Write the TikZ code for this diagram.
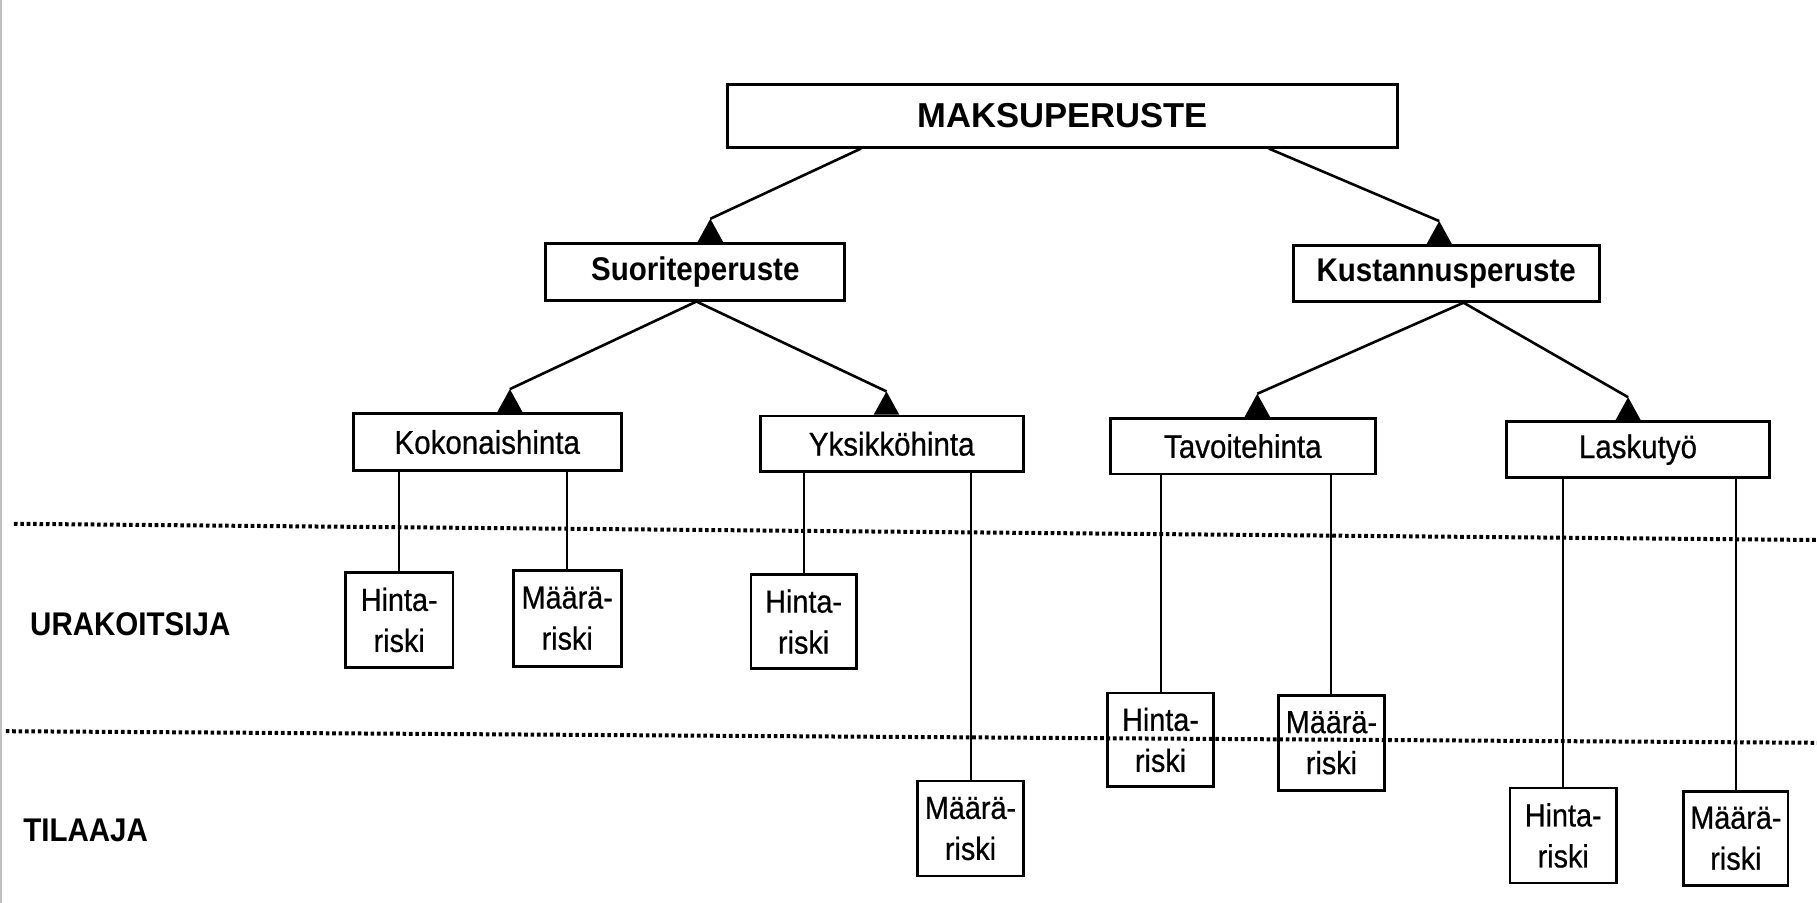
\documentclass[tikz,border=0pt]{standalone}
\usepackage{fontspec}
\setmainfont{Liberation Sans}
\newfontfamily\narrowsf[FakeStretch=0.9, FakeBold=0.6]{Liberation Sans}
\newfontfamily\narrowbf[FakeStretch=0.9]{Liberation Sans Bold}
\usetikzlibrary{calc}
\begin{document}
\begin{tikzpicture}[x=0.5794pt, y=-0.5794pt,
  rbox/.style 2 args={draw, line width=1.4pt, fill=white, inner sep=0pt,
    minimum width=#1*0.5794pt, minimum height=#2*0.5794pt},
  topbox/.style={font=\fontsize{17.3}{20}\selectfont\bfseries},
  catbox/.style={font=\narrowbf\fontsize{16.4}{20}\selectfont},
  kindbox/.style={font=\narrowsf\fontsize{16.4}{20}\selectfont},
  riskbox/.style={align=center, font=\narrowsf\fontsize{16}{20.5}\selectfont},
  link/.style={line width=1.3pt},
  drop/.style={line width=1pt},
  zone/.style={line width=2pt, dash pattern=on 1.8pt off 1.4pt},
  zonelabel/.style={anchor=west, font=\narrowbf\fontsize{16.4}{20}\selectfont},
  uphead/.pic={\fill (0,0) -- (-11,20) -- (11,20) -- cycle;}
]
\useasboundingbox (0,0) rectangle (1568,779);

% faint edge of the sheet
\draw[black!25, line width=1pt] (1,0) -- (1,779);

% top level
\node[rbox={578}{54}, topbox] (maks) at (917,100) {MAKSUPERUSTE};

% second level
\node[rbox={258}{49}, catbox] (suor) at (600,234.5) {Suoriteperuste};
\node[rbox={264}{48}, catbox] (kust) at (1248,236) {Kustannusperuste};

% third level
\node[rbox={231}{49}, kindbox] (kok) at (420.5,381.5) {Kokonaishinta};
\node[rbox={227}{48}, kindbox] (yks) at (769.5,383) {Yksikköhinta};
\node[rbox={229}{48}, kindbox] (tav) at (1072.5,385) {Tavoitehinta};
\node[rbox={227}{48}, kindbox] (las) at (1413.5,388) {Laskutyö};

% risk boxes
\node[rbox={93}{82}, riskbox] (kh) at (344.5,535)  {Hinta-\\riski};
\node[rbox={93}{83}, riskbox] (km) at (489.5,533.5) {Määrä-\\riski};
\node[rbox={91}{81}, riskbox] (yh) at (693.5,536.5) {Hinta-\\riski};
\node[rbox={91}{82}, riskbox] (ym) at (837.5,715)  {Määrä-\\riski};
\node[rbox={91}{81}, riskbox] (th) at (1001.5,638.5) {Hinta-\\riski};
\node[rbox={92}{82}, riskbox] (tm) at (1149,641)   {Määrä-\\riski};
\node[rbox={92}{82}, riskbox] (lh) at (1349,721)   {Hinta-\\riski};
\node[rbox={90}{81}, riskbox] (lm) at (1498,723.5) {Määrä-\\riski};

% arrow tips sitting on the child boxes
\coordinate (tS) at ($(suor.north)+(13,-20)$);
\coordinate (tK) at ($(kust.north)+(-6,-20)$);
\coordinate (tKo) at ($(kok.north)+(19.5,-20)$);
\coordinate (tY) at ($(yks.north)+(-4.5,-20)$);
\coordinate (tT) at ($(tav.north)+(12.5,-20)$);
\coordinate (tL) at ($(las.north)+(-8.5,-20)$);

\draw[link] ($(maks.south)+(-174,0)$) -- (tS);
\draw[link] ($(maks.south)+(178,0)$) -- (tK);
\draw[link] ($(suor.south)+(1,0)$) -- (tKo);
\draw[link] ($(suor.south)+(1,0)$) -- (tY);
\draw[link] ($(kust.south)+(15,0)$) -- (tT);
\draw[link] ($(kust.south)+(15,0)$) -- (tL);
\foreach \t in {tS,tK,tKo,tY,tT,tL} \pic at (\t) {uphead};

% drops to the risk boxes
\draw[drop] (kh.north) -- (kh.north |- kok.south);
\draw[drop] (km.north) -- (km.north |- kok.south);
\draw[drop] (yh.north) -- (yh.north |- yks.south);
\draw[drop] (ym.north) -- (ym.north |- yks.south);
\draw[drop] (th.north) -- (th.north |- tav.south);
\draw[drop] (tm.north) -- (tm.north |- tav.south);
\draw[drop] (lh.north) -- (lh.north |- las.south);
\draw[drop] (lm.north) -- (lm.north |- las.south);

% zone boundaries
\coordinate (z1w) at (12,452);
\coordinate (z1e) at (1568,466);
\coordinate (z2w) at (5,631);
\coordinate (z2e) at (1568,641);
\draw[zone] (z1w) -- (z1e);
\draw[zone] (z2w) -- (z2e);

% zone names
\node[zonelabel] (urak) at (20,539) {URAKOITSIJA};
\node[zonelabel] (tila) at (14,717) {TILAAJA};
\end{tikzpicture}
\end{document}
